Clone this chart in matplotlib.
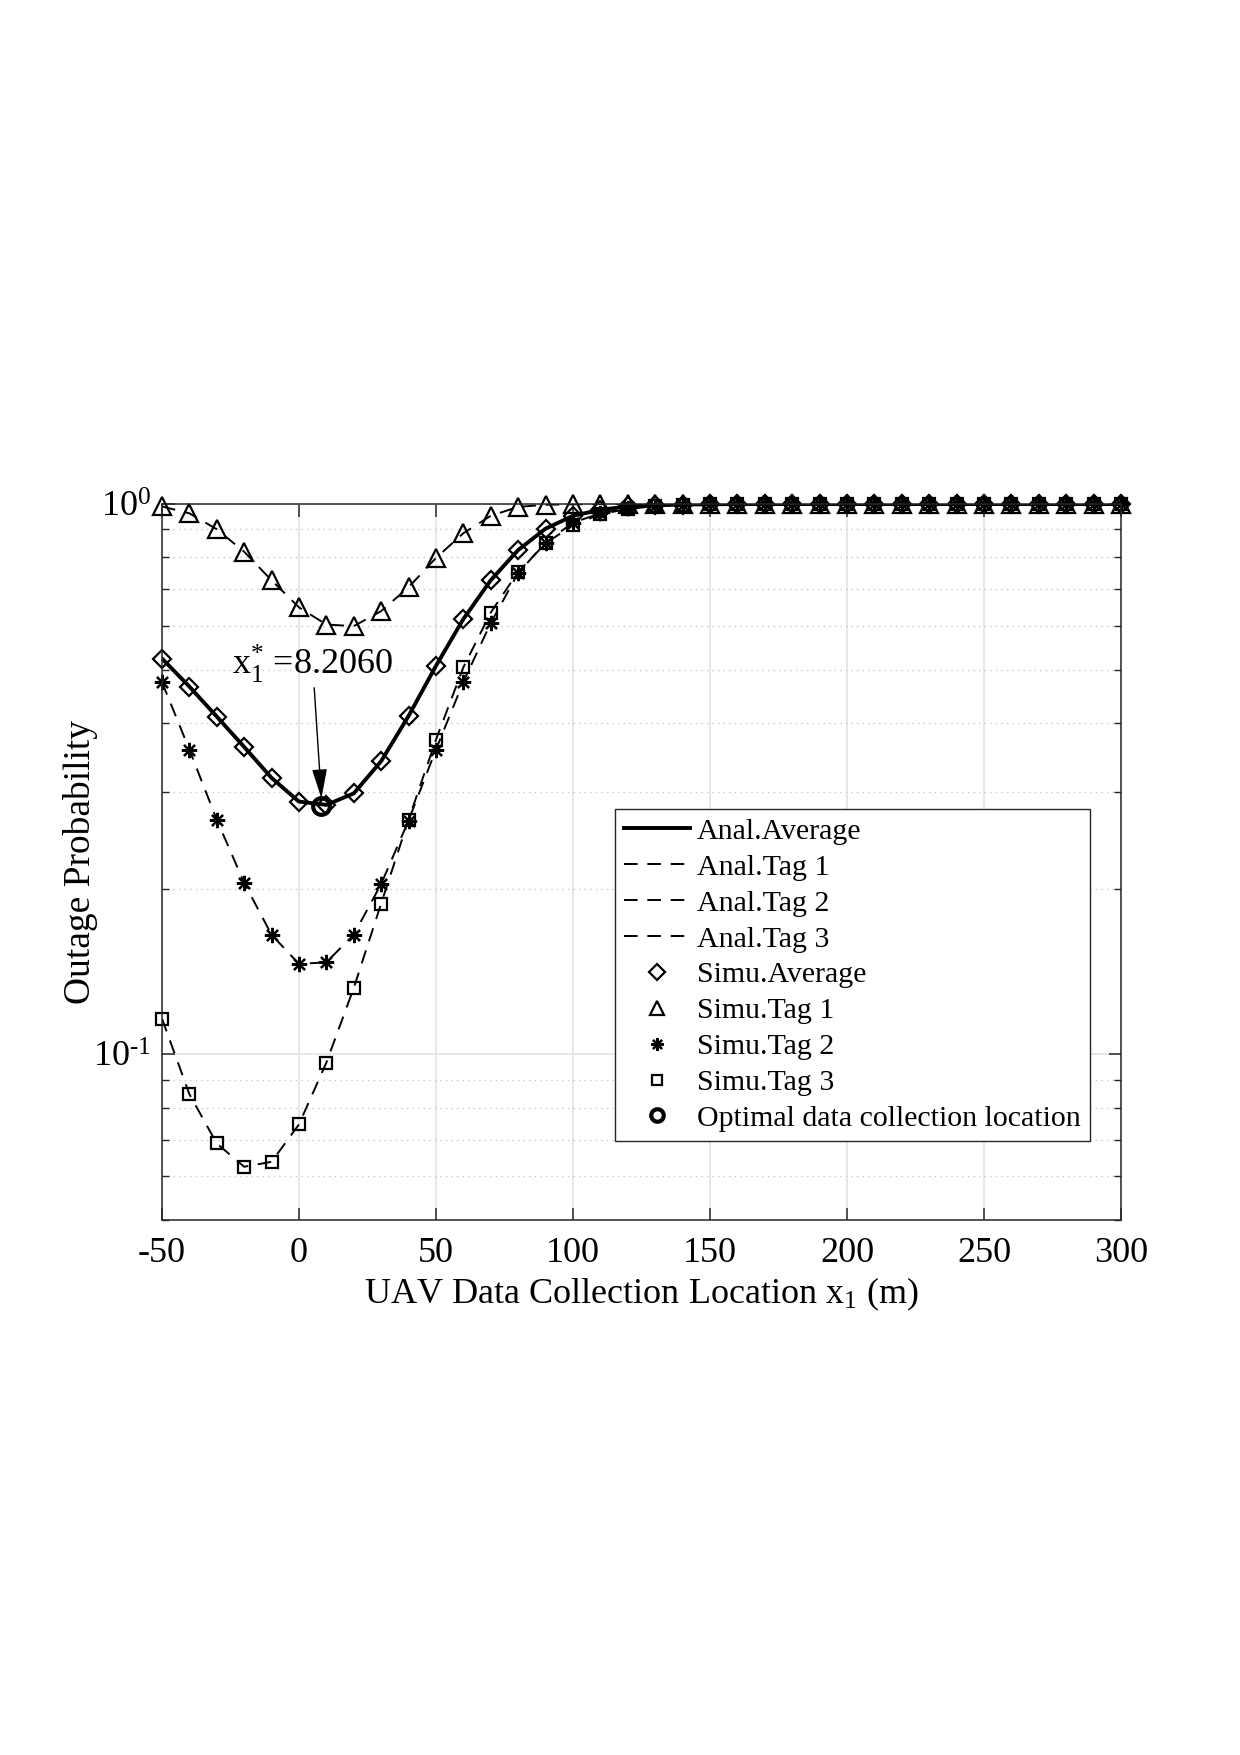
import matplotlib
matplotlib.use("Agg")
import matplotlib.pyplot as plt
from matplotlib.lines import Line2D
from matplotlib.ticker import LogLocator, NullFormatter

# fonts: Times-like everywhere
plt.rcParams['font.family'] = 'Liberation Serif'
plt.rcParams['mathtext.fontset'] = 'custom'
plt.rcParams['mathtext.rm'] = 'Liberation Serif'
plt.rcParams['mathtext.it'] = 'Liberation Serif'
plt.rcParams['axes.unicode_minus'] = False

# UAV location (m)
x_loc = [-50, -40, -30, -20, -10, 0, 10, 20, 30, 40, 50, 60, 70, 80, 90, 100,
         110, 120, 130, 140, 150, 160, 170, 180, 190, 200, 210, 220, 230, 240,
         250, 260, 270, 280, 290, 300]

# outage probability
avg = [0.524, 0.466, 0.411, 0.362, 0.318, 0.288, 0.284, 0.298, 0.341, 0.412,
       0.508, 0.618, 0.727, 0.825, 0.902, 0.952, 0.976, 0.990, 0.996, 0.998,
       0.999, 1.0, 1.0, 1.0, 1.0, 1.0, 1.0, 1.0, 1.0, 1.0, 1.0, 1.0, 1.0, 1.0,
       1.0, 1.0]
tag1 = [0.990, 0.962, 0.900, 0.819, 0.727, 0.649, 0.604, 0.600, 0.639, 0.706,
        0.798, 0.885, 0.952, 0.988, 0.997, 0.999, 1.0, 1.0, 1.0, 1.0, 1.0, 1.0,
        1.0, 1.0, 1.0, 1.0, 1.0, 1.0, 1.0, 1.0, 1.0, 1.0, 1.0, 1.0, 1.0, 1.0]
tag2 = [0.475, 0.358, 0.267, 0.205, 0.165, 0.146, 0.147, 0.165, 0.204, 0.266,
        0.358, 0.475, 0.608, 0.749, 0.851, 0.925, 0.962, 0.982, 0.992, 0.997,
        0.999, 1.0, 1.0, 1.0, 1.0, 1.0, 1.0, 1.0, 1.0, 1.0, 1.0, 1.0, 1.0, 1.0,
        1.0, 1.0]
tag3 = [0.1162, 0.0847, 0.0689, 0.0625, 0.0638, 0.0746, 0.0966, 0.132, 0.188,
        0.267, 0.373, 0.505, 0.635, 0.753, 0.848, 0.916, 0.958, 0.980, 0.991,
        0.996, 0.999, 1.0, 1.0, 1.0, 1.0, 1.0, 1.0, 1.0, 1.0, 1.0, 1.0, 1.0,
        1.0, 1.0, 1.0, 1.0]

# optimal location
x_opt = 8.2060
p_opt = 0.283

fig = plt.figure(figsize=(12.4, 17.55), dpi=100)
ax = fig.add_axes([0.1306, 0.3048, 0.7734, 0.408])

dash = (0, (7, 5))
# analytical curves
ax.plot(x_loc, avg, color='k', lw=2.8)
ax.plot(x_loc, tag1, color='k', lw=1.4, ls=dash)
ax.plot(x_loc, tag2, color='k', lw=1.4, ls=dash)
ax.plot(x_loc, tag3, color='k', lw=1.4, ls=dash)
# simulation markers
ax.plot(x_loc, avg, 'D', ms=9, mfc='none', mec='k', mew=1.6, clip_on=False)
ax.plot(x_loc, tag1, '^', ms=13, mfc='none', mec='k', mew=1.6, clip_on=False)
ax.plot(x_loc, tag2, marker=(8, 2, 0), ls='none', ms=11, mec='k', mew=1.6, clip_on=False)
ax.plot(x_loc, tag3, 's', ms=9, mfc='none', mec='k', mew=1.6, clip_on=False)
ax.plot([x_opt], [p_opt], 'o', ms=12, mfc='none', mec='k', mew=3)

ax.set_yscale('log')
ax.set_xlim(-50, 300)
ax.set_ylim(0.05, 1)
ax.set_xticks([-50, 0, 50, 100, 150, 200, 250, 300])
ax.set_yticks([0.1, 1])
ax.set_yticklabels([r'$10^{\text{-}1}$', r'$10^{0}$'])
ax.yaxis.set_minor_locator(LogLocator(base=10, subs=range(2, 10)))
ax.yaxis.set_minor_formatter(NullFormatter())

ax.grid(True, which='major', color='#e3e3e3', lw=1.2, ls='-')
ax.grid(True, which='minor', axis='y', color='#c8c8c8', lw=1.0, ls=(0, (1, 3)))
ax.set_axisbelow(True)

for s in ax.spines.values():
    s.set_color('#262626')
    s.set_linewidth(1.1)
ax.tick_params(which='both', direction='in', top=True, right=True, colors='#262626',
               labelcolor='k', labelsize=26)
ax.tick_params(which='major', length=9, width=1.1)
ax.tick_params(which='minor', length=5, width=1.0)
ax.tick_params(axis='x', pad=12)
ax.tick_params(axis='y', pad=8)

ax.set_xlabel(r'UAV Data Collection Location x$_{1}$ (m)', fontsize=26, labelpad=4)
ax.set_ylabel('Outage Probability', fontsize=27, labelpad=-4)

# annotation of the optimum
ax.annotate(r'x$_{1}^{*}$ =8.2060', xy=(x_opt, 0.292), xytext=(5.0, 0.469),
            fontsize=26, ha='center', va='bottom',
            arrowprops=dict(arrowstyle='-|>,head_length=0.7,head_width=0.18',
                            color='k', lw=1.0, shrinkA=0, shrinkB=0))

handles = [
    Line2D([], [], color='k', lw=2.8),
    Line2D([], [], color='k', lw=1.4, ls=dash),
    Line2D([], [], color='k', lw=1.4, ls=dash),
    Line2D([], [], color='k', lw=1.4, ls=dash),
    Line2D([], [], ls='none', marker='D', ms=8, mfc='none', mec='k', mew=1.6),
    Line2D([], [], ls='none', marker='^', ms=10, mfc='none', mec='k', mew=1.6),
    Line2D([], [], ls='none', marker=(8, 2, 0), ms=9, mec='k', mew=1.6),
    Line2D([], [], ls='none', marker='s', ms=7, mfc='none', mec='k', mew=1.6),
    Line2D([], [], ls='none', marker='o', ms=9, mfc='none', mec='k', mew=3),
]
labels = ['Anal.Average', 'Anal.Tag 1', 'Anal.Tag 2', 'Anal.Tag 3',
          'Simu.Average', 'Simu.Tag 1', 'Simu.Tag 2', 'Simu.Tag 3',
          'Optimal data collection location']
leg = ax.legend(handles, labels, loc='upper left', bbox_to_anchor=(0.4724, 0.574),
                borderaxespad=0, fontsize=21.5, handlelength=2.2, handletextpad=0.25,
                labelspacing=0.3, borderpad=0.3, fancybox=False, framealpha=1,
                edgecolor='#262626')
leg.get_frame().set_linewidth(1.0)

fig.savefig('out.png', dpi=100)
